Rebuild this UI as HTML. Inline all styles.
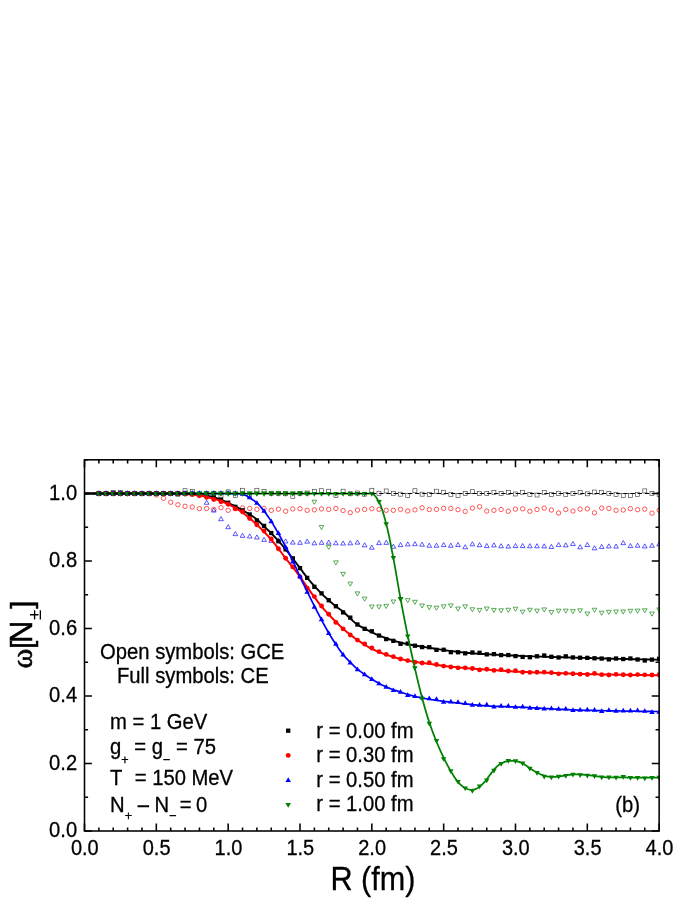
<!DOCTYPE html>
<html><head><meta charset="utf-8"><title>chart</title>
<style>html,body{margin:0;padding:0;background:#fff;}body{width:695px;height:899px;position:relative;overflow:hidden;font-family:"Liberation Sans",sans-serif;}</style>
</head><body>
<svg width="695" height="899" viewBox="0 0 695 899" style="position:absolute;left:0;top:0;display:block;will-change:transform" font-family="'Liberation Sans', sans-serif" fill="#000">
<style>text{stroke:#000;stroke-width:0.28px}</style>
<rect x="0" y="0" width="695" height="899" fill="#fff"/>
<defs><clipPath id="pc"><rect x="84.5" y="459.81" width="575.24" height="371.19"/></clipPath></defs>
<g clip-path="url(#pc)">
<g fill="none" stroke="#333" stroke-width="0.6">
<rect x="96.87" y="491.5" width="4" height="4"/>
<rect x="104.05" y="491.5" width="4" height="4"/>
<rect x="111.23" y="490.49" width="4" height="4"/>
<rect x="118.41" y="490.49" width="4" height="4"/>
<rect x="125.6" y="491.5" width="4" height="4"/>
<rect x="132.78" y="491.5" width="4" height="4"/>
<rect x="139.96" y="491.5" width="4" height="4"/>
<rect x="147.15" y="491.5" width="4" height="4"/>
<rect x="154.33" y="491.5" width="4" height="4"/>
<rect x="161.51" y="491.5" width="4" height="4"/>
<rect x="168.7" y="491.5" width="4" height="4"/>
<rect x="175.88" y="492.17" width="4" height="4"/>
<rect x="183.06" y="488.74" width="4" height="4"/>
<rect x="190.25" y="489.48" width="4" height="4"/>
<rect x="197.43" y="492.17" width="4" height="4"/>
<rect x="204.61" y="491.74" width="4" height="4"/>
<rect x="211.79" y="491.26" width="4" height="4"/>
<rect x="218.98" y="494.03" width="4" height="4"/>
<rect x="226.16" y="489.88" width="4" height="4"/>
<rect x="233.34" y="493.52" width="4" height="4"/>
<rect x="240.53" y="488.26" width="4" height="4"/>
<rect x="247.71" y="494.03" width="4" height="4"/>
<rect x="254.89" y="488.26" width="4" height="4"/>
<rect x="262.07" y="489.48" width="4" height="4"/>
<rect x="269.26" y="491.26" width="4" height="4"/>
<rect x="276.44" y="491.26" width="4" height="4"/>
<rect x="283.62" y="491.74" width="4" height="4"/>
<rect x="290.81" y="494.5" width="4" height="4"/>
<rect x="297.99" y="491.5" width="4" height="4"/>
<rect x="305.17" y="491.03" width="4" height="4"/>
<rect x="312.36" y="489.44" width="4" height="4"/>
<rect x="319.54" y="488.74" width="4" height="4"/>
<rect x="326.72" y="489.21" width="4" height="4"/>
<rect x="333.9" y="493.35" width="4" height="4"/>
<rect x="341.09" y="489.21" width="4" height="4"/>
<rect x="348.27" y="491.74" width="4" height="4"/>
<rect x="355.45" y="491.03" width="4" height="4"/>
<rect x="362.64" y="492.17" width="4" height="4"/>
<rect x="369.82" y="488.26" width="4" height="4"/>
<rect x="377" y="491.26" width="4" height="4"/>
<rect x="384.19" y="488.97" width="4" height="4"/>
<rect x="391.37" y="491.26" width="4" height="4"/>
<rect x="398.55" y="492.17" width="4" height="4"/>
<rect x="405.74" y="493.35" width="4" height="4"/>
<rect x="412.92" y="488.74" width="4" height="4"/>
<rect x="420.1" y="492.17" width="4" height="4"/>
<rect x="427.28" y="492.65" width="4" height="4"/>
<rect x="434.47" y="489.21" width="4" height="4"/>
<rect x="441.65" y="490.25" width="4" height="4"/>
<rect x="448.83" y="492.51" width="4" height="4"/>
<rect x="456.02" y="493.35" width="4" height="4"/>
<rect x="463.2" y="491.63" width="4" height="4"/>
<rect x="470.38" y="489.71" width="4" height="4"/>
<rect x="477.56" y="491.5" width="4" height="4"/>
<rect x="484.75" y="491.5" width="4" height="4"/>
<rect x="491.93" y="490.59" width="4" height="4"/>
<rect x="499.11" y="491.5" width="4" height="4"/>
<rect x="506.3" y="490.49" width="4" height="4"/>
<rect x="513.48" y="491.97" width="4" height="4"/>
<rect x="520.66" y="490.25" width="4" height="4"/>
<rect x="527.85" y="492.31" width="4" height="4"/>
<rect x="535.03" y="493.02" width="4" height="4"/>
<rect x="542.21" y="490.59" width="4" height="4"/>
<rect x="549.39" y="492.51" width="4" height="4"/>
<rect x="556.58" y="491.5" width="4" height="4"/>
<rect x="563.76" y="492.51" width="4" height="4"/>
<rect x="570.94" y="491.5" width="4" height="4"/>
<rect x="578.13" y="490.59" width="4" height="4"/>
<rect x="585.31" y="491.84" width="4" height="4"/>
<rect x="592.49" y="490.05" width="4" height="4"/>
<rect x="599.68" y="490.42" width="4" height="4"/>
<rect x="606.86" y="491.5" width="4" height="4"/>
<rect x="614.04" y="492.51" width="4" height="4"/>
<rect x="621.23" y="493.35" width="4" height="4"/>
<rect x="628.41" y="493.35" width="4" height="4"/>
<rect x="635.59" y="492.51" width="4" height="4"/>
<rect x="642.77" y="488.87" width="4" height="4"/>
<rect x="649.96" y="491.5" width="4" height="4"/>
<rect x="657.14" y="492.65" width="4" height="4"/>
</g>
<g fill="none" stroke="#ff0000" stroke-width="0.65">
<circle cx="98.87" cy="493.5" r="2.2"/>
<circle cx="106.05" cy="493.5" r="2.2"/>
<circle cx="113.23" cy="493.5" r="2.2"/>
<circle cx="120.41" cy="493.5" r="2.2"/>
<circle cx="127.6" cy="493.5" r="2.2"/>
<circle cx="134.78" cy="493.5" r="2.2"/>
<circle cx="141.96" cy="493.5" r="2.2"/>
<circle cx="149.15" cy="493.5" r="2.2"/>
<circle cx="156.33" cy="494.85" r="2.2"/>
<circle cx="163.51" cy="498.32" r="2.2"/>
<circle cx="170.7" cy="502.26" r="2.2"/>
<circle cx="177.88" cy="504.79" r="2.2"/>
<circle cx="185.06" cy="506.31" r="2.2"/>
<circle cx="192.25" cy="506.98" r="2.2"/>
<circle cx="199.43" cy="508.67" r="2.2"/>
<circle cx="206.61" cy="508.46" r="2.2"/>
<circle cx="213.79" cy="509.34" r="2.2"/>
<circle cx="220.98" cy="507.65" r="2.2"/>
<circle cx="228.16" cy="510.35" r="2.2"/>
<circle cx="235.34" cy="508.67" r="2.2"/>
<circle cx="242.53" cy="507.99" r="2.2"/>
<circle cx="249.71" cy="508.46" r="2.2"/>
<circle cx="256.89" cy="509.34" r="2.2"/>
<circle cx="264.07" cy="508.46" r="2.2"/>
<circle cx="271.26" cy="510.35" r="2.2"/>
<circle cx="278.44" cy="509.17" r="2.2"/>
<circle cx="285.62" cy="511.23" r="2.2"/>
<circle cx="292.81" cy="508.93" r="2.2"/>
<circle cx="299.99" cy="508.7" r="2.2"/>
<circle cx="307.17" cy="510.32" r="2.2"/>
<circle cx="314.36" cy="509.84" r="2.2"/>
<circle cx="321.54" cy="508.93" r="2.2"/>
<circle cx="328.72" cy="509.37" r="2.2"/>
<circle cx="335.9" cy="508.46" r="2.2"/>
<circle cx="343.09" cy="510.52" r="2.2"/>
<circle cx="350.27" cy="512.61" r="2.2"/>
<circle cx="357.45" cy="510.08" r="2.2"/>
<circle cx="364.64" cy="509.37" r="2.2"/>
<circle cx="371.82" cy="508.7" r="2.2"/>
<circle cx="379" cy="509.37" r="2.2"/>
<circle cx="386.19" cy="510.32" r="2.2"/>
<circle cx="393.37" cy="510.32" r="2.2"/>
<circle cx="400.55" cy="509.37" r="2.2"/>
<circle cx="407.74" cy="510.99" r="2.2"/>
<circle cx="414.92" cy="509.84" r="2.2"/>
<circle cx="422.1" cy="507.76" r="2.2"/>
<circle cx="429.28" cy="509.51" r="2.2"/>
<circle cx="436.47" cy="509.34" r="2.2"/>
<circle cx="443.65" cy="508.33" r="2.2"/>
<circle cx="450.83" cy="508.46" r="2.2"/>
<circle cx="458.02" cy="509.68" r="2.2"/>
<circle cx="465.2" cy="511.43" r="2.2"/>
<circle cx="472.38" cy="508.13" r="2.2"/>
<circle cx="479.56" cy="506.74" r="2.2"/>
<circle cx="486.75" cy="511.06" r="2.2"/>
<circle cx="493.93" cy="510.35" r="2.2"/>
<circle cx="501.11" cy="509.51" r="2.2"/>
<circle cx="508.3" cy="511.23" r="2.2"/>
<circle cx="515.48" cy="509.17" r="2.2"/>
<circle cx="522.66" cy="508.83" r="2.2"/>
<circle cx="529.85" cy="511.23" r="2.2"/>
<circle cx="537.03" cy="509.51" r="2.2"/>
<circle cx="544.21" cy="508.13" r="2.2"/>
<circle cx="551.39" cy="510.01" r="2.2"/>
<circle cx="558.58" cy="512.98" r="2.2"/>
<circle cx="565.76" cy="509.51" r="2.2"/>
<circle cx="572.94" cy="511.06" r="2.2"/>
<circle cx="580.13" cy="509.17" r="2.2"/>
<circle cx="587.31" cy="508.83" r="2.2"/>
<circle cx="594.49" cy="512.81" r="2.2"/>
<circle cx="601.68" cy="508.13" r="2.2"/>
<circle cx="608.86" cy="508.46" r="2.2"/>
<circle cx="616.04" cy="510.35" r="2.2"/>
<circle cx="623.23" cy="510.01" r="2.2"/>
<circle cx="630.41" cy="508.67" r="2.2"/>
<circle cx="637.59" cy="509.68" r="2.2"/>
<circle cx="644.77" cy="509.17" r="2.2"/>
<circle cx="651.96" cy="513.15" r="2.2"/>
<circle cx="659.14" cy="510.22" r="2.2"/>
</g>
<g fill="none" stroke="#0000ff" stroke-width="0.65">
<path d="M98.87 491.45L101.22 495.55L96.52 495.55Z"/>
<path d="M106.05 491.45L108.4 495.55L103.7 495.55Z"/>
<path d="M113.23 491.45L115.58 495.55L110.88 495.55Z"/>
<path d="M120.41 491.45L122.76 495.55L118.06 495.55Z"/>
<path d="M127.6 491.45L129.95 495.55L125.25 495.55Z"/>
<path d="M134.78 491.45L137.13 495.55L132.43 495.55Z"/>
<path d="M141.96 491.45L144.31 495.55L139.61 495.55Z"/>
<path d="M149.15 491.45L151.5 495.55L146.8 495.55Z"/>
<path d="M156.33 491.45L158.68 495.55L153.98 495.55Z"/>
<path d="M163.51 491.45L165.86 495.55L161.16 495.55Z"/>
<path d="M170.7 491.45L173.05 495.55L168.35 495.55Z"/>
<path d="M177.88 491.45L180.23 495.55L175.53 495.55Z"/>
<path d="M185.06 491.45L187.41 495.55L182.71 495.55Z"/>
<path d="M192.25 491.45L194.59 495.55L189.9 495.55Z"/>
<path d="M199.43 492.12L201.78 496.22L197.08 496.22Z"/>
<path d="M206.61 500.21L208.96 504.31L204.26 504.31Z"/>
<path d="M213.79 507.96L216.14 512.06L211.44 512.06Z"/>
<path d="M220.98 516.56L223.33 520.66L218.63 520.66Z"/>
<path d="M228.16 524.61L230.51 528.71L225.81 528.71Z"/>
<path d="M235.34 531.55L237.69 535.65L232.99 535.65Z"/>
<path d="M242.53 533.24L244.88 537.34L240.18 537.34Z"/>
<path d="M249.71 533.91L252.06 538.01L247.36 538.01Z"/>
<path d="M256.89 534.92L259.24 539.02L254.54 539.02Z"/>
<path d="M264.07 537.28L266.43 541.38L261.72 541.38Z"/>
<path d="M271.26 538.29L273.61 542.39L268.91 542.39Z"/>
<path d="M278.44 537.79L280.79 541.89L276.09 541.89Z"/>
<path d="M285.62 538.87L287.97 542.97L283.27 542.97Z"/>
<path d="M292.81 540.01L295.16 544.11L290.46 544.11Z"/>
<path d="M299.99 540.25L302.34 544.35L297.64 544.35Z"/>
<path d="M307.17 539.1L309.52 543.2L304.82 543.2Z"/>
<path d="M314.36 540.72L316.71 544.82L312.01 544.82Z"/>
<path d="M321.54 540.25L323.89 544.35L319.19 544.35Z"/>
<path d="M328.72 540.01L331.07 544.11L326.37 544.11Z"/>
<path d="M335.9 540.72L338.25 544.82L333.55 544.82Z"/>
<path d="M343.09 540.96L345.44 545.06L340.74 545.06Z"/>
<path d="M350.27 540.72L352.62 544.82L347.92 544.82Z"/>
<path d="M357.45 540.01L359.8 544.11L355.1 544.11Z"/>
<path d="M364.64 542.78L366.99 546.88L362.29 546.88Z"/>
<path d="M371.82 545.1L374.17 549.2L369.47 549.2Z"/>
<path d="M379 540.48L381.35 544.58L376.65 544.58Z"/>
<path d="M386.19 540.25L388.54 544.35L383.84 544.35Z"/>
<path d="M393.37 544.16L395.72 548.26L391.02 548.26Z"/>
<path d="M400.55 542.54L402.9 546.64L398.2 546.64Z"/>
<path d="M407.74 541.87L410.09 545.97L405.38 545.97Z"/>
<path d="M414.92 541.63L417.27 545.73L412.57 545.73Z"/>
<path d="M422.1 542.1L424.45 546.2L419.75 546.2Z"/>
<path d="M429.28 543.15L431.63 547.25L426.93 547.25Z"/>
<path d="M436.47 543.15L438.82 547.25L434.12 547.25Z"/>
<path d="M443.65 542.47L446 546.57L441.3 546.57Z"/>
<path d="M450.83 543.15L453.18 547.25L448.48 547.25Z"/>
<path d="M458.02 542.47L460.37 546.57L455.67 546.57Z"/>
<path d="M465.2 544.7L467.55 548.8L462.85 548.8Z"/>
<path d="M472.38 541.76L474.73 545.86L470.03 545.86Z"/>
<path d="M479.56 542.64L481.92 546.74L477.21 546.74Z"/>
<path d="M486.75 543.48L489.1 547.58L484.4 547.58Z"/>
<path d="M493.93 542.81L496.28 546.91L491.58 546.91Z"/>
<path d="M501.11 543.69L503.46 547.78L498.76 547.78Z"/>
<path d="M508.3 544.02L510.65 548.12L505.95 548.12Z"/>
<path d="M515.48 543.48L517.83 547.58L513.13 547.58Z"/>
<path d="M522.66 543.48L525.01 547.58L520.31 547.58Z"/>
<path d="M529.85 543.69L532.2 547.78L527.5 547.78Z"/>
<path d="M537.03 543.69L539.38 547.78L534.68 547.78Z"/>
<path d="M544.21 543.85L546.56 547.95L541.86 547.95Z"/>
<path d="M551.39 544.36L553.75 548.46L549.04 548.46Z"/>
<path d="M558.58 542.47L560.93 546.57L556.23 546.57Z"/>
<path d="M565.76 542.81L568.11 546.91L563.41 546.91Z"/>
<path d="M572.94 541.43L575.29 545.53L570.59 545.53Z"/>
<path d="M580.13 544.7L582.48 548.8L577.78 548.8Z"/>
<path d="M587.31 542.47L589.66 546.57L584.96 546.57Z"/>
<path d="M594.49 545.74L596.84 549.84L592.14 549.84Z"/>
<path d="M601.68 544.36L604.03 548.46L599.33 548.46Z"/>
<path d="M608.86 543.85L611.21 547.95L606.51 547.95Z"/>
<path d="M616.04 544.02L618.39 548.12L613.69 548.12Z"/>
<path d="M623.23 540.55L625.58 544.65L620.88 544.65Z"/>
<path d="M630.41 543.48L632.76 547.58L628.06 547.58Z"/>
<path d="M637.59 543.15L639.94 547.25L635.24 547.25Z"/>
<path d="M644.77 543.85L647.12 547.95L642.42 547.95Z"/>
<path d="M651.96 543.15L654.31 547.25L649.61 547.25Z"/>
<path d="M659.14 541.76L661.49 545.86L656.79 545.86Z"/>
</g>
<g fill="none" stroke="#008000" stroke-width="0.65">
<path d="M98.87 495.55L101.22 491.45L96.52 491.45Z"/>
<path d="M106.05 495.55L108.4 491.45L103.7 491.45Z"/>
<path d="M113.23 495.55L115.58 491.45L110.88 491.45Z"/>
<path d="M120.41 495.55L122.76 491.45L118.06 491.45Z"/>
<path d="M127.6 495.55L129.95 491.45L125.25 491.45Z"/>
<path d="M134.78 495.55L137.13 491.45L132.43 491.45Z"/>
<path d="M141.96 495.55L144.31 491.45L139.61 491.45Z"/>
<path d="M149.15 495.55L151.5 491.45L146.8 491.45Z"/>
<path d="M156.33 495.55L158.68 491.45L153.98 491.45Z"/>
<path d="M163.51 495.55L165.86 491.45L161.16 491.45Z"/>
<path d="M170.7 495.55L173.05 491.45L168.35 491.45Z"/>
<path d="M177.88 495.55L180.23 491.45L175.53 491.45Z"/>
<path d="M185.06 495.55L187.41 491.45L182.71 491.45Z"/>
<path d="M192.25 495.55L194.59 491.45L189.9 491.45Z"/>
<path d="M199.43 495.55L201.78 491.45L197.08 491.45Z"/>
<path d="M206.61 495.55L208.96 491.45L204.26 491.45Z"/>
<path d="M213.79 495.55L216.14 491.45L211.44 491.45Z"/>
<path d="M220.98 495.55L223.33 491.45L218.63 491.45Z"/>
<path d="M228.16 495.55L230.51 491.45L225.81 491.45Z"/>
<path d="M235.34 495.55L237.69 491.45L232.99 491.45Z"/>
<path d="M242.53 495.55L244.88 491.45L240.18 491.45Z"/>
<path d="M249.71 495.55L252.06 491.45L247.36 491.45Z"/>
<path d="M256.89 495.55L259.24 491.45L254.54 491.45Z"/>
<path d="M264.07 495.55L266.43 491.45L261.72 491.45Z"/>
<path d="M271.26 495.55L273.61 491.45L268.91 491.45Z"/>
<path d="M278.44 495.55L280.79 491.45L276.09 491.45Z"/>
<path d="M285.62 495.55L287.97 491.45L283.27 491.45Z"/>
<path d="M292.81 495.55L295.16 491.45L290.46 491.45Z"/>
<path d="M299.99 495.55L302.34 491.45L297.64 491.45Z"/>
<path d="M307.17 495.89L309.52 491.79L304.82 491.79Z"/>
<path d="M314.36 504.31L316.71 500.21L312.01 500.21Z"/>
<path d="M321.54 529.59L323.89 525.49L319.19 525.49Z"/>
<path d="M328.72 549.47L331.07 545.37L326.37 545.37Z"/>
<path d="M335.9 564.97L338.25 560.87L333.55 560.87Z"/>
<path d="M343.09 576.43L345.44 572.33L340.74 572.33Z"/>
<path d="M350.27 586.2L352.62 582.1L347.92 582.1Z"/>
<path d="M357.45 595.98L359.8 591.88L355.1 591.88Z"/>
<path d="M364.64 601.2L366.99 597.1L362.29 597.1Z"/>
<path d="M371.82 609.12L374.17 605.02L369.47 605.02Z"/>
<path d="M379 609.12L381.35 605.02L376.65 605.02Z"/>
<path d="M386.19 608.44L388.54 604.35L383.84 604.35Z"/>
<path d="M393.37 604.06L395.72 599.96L391.02 599.96Z"/>
<path d="M400.55 601.7L402.9 597.61L398.2 597.61Z"/>
<path d="M407.74 602.72L410.09 598.62L405.38 598.62Z"/>
<path d="M414.92 604.4L417.27 600.3L412.57 600.3Z"/>
<path d="M422.1 608.11L424.45 604.01L419.75 604.01Z"/>
<path d="M429.28 609.76L431.63 605.66L426.93 605.66Z"/>
<path d="M436.47 610.3L438.82 606.2L434.12 606.2Z"/>
<path d="M443.65 608.92L446 604.82L441.3 604.82Z"/>
<path d="M450.83 608.04L453.18 603.94L448.48 603.94Z"/>
<path d="M458.02 611.14L460.37 607.04L455.67 607.04Z"/>
<path d="M465.2 608.92L467.55 604.82L462.85 604.82Z"/>
<path d="M472.38 611.85L474.73 607.75L470.03 607.75Z"/>
<path d="M479.56 612.52L481.92 608.42L477.21 608.42Z"/>
<path d="M486.75 611.14L489.1 607.04L484.4 607.04Z"/>
<path d="M493.93 612.52L496.28 608.42L491.58 608.42Z"/>
<path d="M501.11 612.89L503.46 608.79L498.76 608.79Z"/>
<path d="M508.3 612.35L510.65 608.25L505.95 608.25Z"/>
<path d="M515.48 611.31L517.83 607.21L513.13 607.21Z"/>
<path d="M522.66 614.28L525.01 610.18L520.31 610.18Z"/>
<path d="M529.85 612.35L532.2 608.25L527.5 608.25Z"/>
<path d="M537.03 613.23L539.38 609.13L534.68 609.13Z"/>
<path d="M544.21 612.02L546.56 607.92L541.86 607.92Z"/>
<path d="M551.39 614.61L553.75 610.51L549.04 610.51Z"/>
<path d="M558.58 613.23L560.93 609.13L556.23 609.13Z"/>
<path d="M565.76 613.23L568.11 609.13L563.41 609.13Z"/>
<path d="M572.94 613.74L575.29 609.64L570.59 609.64Z"/>
<path d="M580.13 612.89L582.48 608.79L577.78 608.79Z"/>
<path d="M587.31 616.16L589.66 612.06L584.96 612.06Z"/>
<path d="M594.49 612.35L596.84 608.25L592.14 608.25Z"/>
<path d="M601.68 615.29L604.03 611.19L599.33 611.19Z"/>
<path d="M608.86 614.44L611.21 610.34L606.51 610.34Z"/>
<path d="M616.04 614.07L618.39 609.97L613.69 609.97Z"/>
<path d="M623.23 614.07L625.58 609.97L620.88 609.97Z"/>
<path d="M630.41 613.4L632.76 609.3L628.06 609.3Z"/>
<path d="M637.59 613.23L639.94 609.13L635.24 609.13Z"/>
<path d="M644.77 612.89L647.12 608.79L642.42 608.79Z"/>
<path d="M651.96 616.16L654.31 612.06L649.61 612.06Z"/>
<path d="M659.14 612.02L661.49 607.92L656.79 607.92Z"/>
</g>
<path d="M84.5 493.5L85.94 493.5L87.37 493.5L88.81 493.5L90.25 493.5L91.68 493.5L93.12 493.5L94.56 493.5L95.99 493.5L97.43 493.5L98.87 493.5L100.3 493.5L101.74 493.5L103.18 493.5L104.61 493.5L106.05 493.5L107.49 493.5L108.92 493.5L110.36 493.5L111.8 493.5L113.23 493.5L114.67 493.5L116.11 493.5L117.54 493.5L118.98 493.5L120.41 493.5L121.85 493.5L123.29 493.5L124.72 493.5L126.16 493.5L127.6 493.5L129.03 493.5L130.47 493.5L131.91 493.5L133.34 493.5L134.78 493.5L136.22 493.5L137.65 493.5L139.09 493.5L140.53 493.5L141.96 493.5L143.4 493.5L144.84 493.5L146.27 493.5L147.71 493.5L149.15 493.5L150.58 493.5L152.02 493.5L153.46 493.5L154.89 493.5L156.33 493.5L157.77 493.5L159.2 493.5L160.64 493.5L162.08 493.5L163.51 493.5L164.95 493.5L166.39 493.5L167.82 493.5L169.26 493.5L170.7 493.5L172.13 493.5L173.57 493.51L175.01 493.52L176.44 493.53L177.88 493.55L179.32 493.57L180.75 493.59L182.19 493.61L183.63 493.64L185.06 493.67L186.5 493.71L187.94 493.76L189.37 493.83L190.81 493.92L192.25 494.02L193.68 494.13L195.12 494.24L196.55 494.37L197.99 494.51L199.43 494.65L200.86 494.8L202.3 494.98L203.74 495.18L205.17 495.41L206.61 495.66L208.05 495.93L209.48 496.22L210.92 496.53L212.36 496.86L213.79 497.21L215.23 497.6L216.67 498.05L218.1 498.57L219.54 499.12L220.98 499.72L222.41 500.35L223.85 500.99L225.29 501.64L226.72 502.29L228.16 502.94L229.6 503.58L231.03 504.26L232.47 504.96L233.91 505.68L235.34 506.41L236.78 507.16L238.22 507.94L239.65 508.74L241.09 509.54L242.53 510.35L243.96 511.15L245.4 511.94L246.84 512.75L248.27 513.58L249.71 514.46L251.15 515.38L252.58 516.33L254.02 517.33L255.46 518.39L256.89 519.52L258.33 520.76L259.77 522.13L261.2 523.56L262.64 525.01L264.07 526.42L265.51 527.8L266.95 529.16L268.38 530.52L269.82 531.91L271.26 533.33L272.69 534.79L274.13 536.28L275.57 537.79L277 539.34L278.44 540.92L279.88 542.53L281.31 544.17L282.75 545.85L284.19 547.56L285.62 549.31L287.06 551.11L288.5 552.97L289.93 554.86L291.37 556.76L292.81 558.64L294.24 560.5L295.68 562.36L297.12 564.21L298.55 566.08L299.99 567.98L301.43 569.93L302.86 571.93L304.3 573.93L305.74 575.89L307.17 577.75L308.61 579.51L310.05 581.2L311.48 582.84L312.92 584.45L314.36 586.04L315.79 587.62L317.23 589.18L318.67 590.71L320.1 592.21L321.54 593.66L322.98 595.06L324.41 596.42L325.85 597.75L327.29 599.05L328.72 600.33L330.16 601.59L331.6 602.84L333.03 604.06L334.47 605.25L335.9 606.39L337.34 607.46L338.78 608.46L340.21 609.44L341.65 610.46L343.09 611.58L344.52 612.86L345.96 614.26L347.4 615.72L348.83 617.17L350.27 618.53L351.71 619.83L353.14 621.13L354.58 622.38L356.02 623.55L357.45 624.59L358.89 625.51L360.33 626.34L361.76 627.12L363.2 627.88L364.64 628.64L366.07 629.41L367.51 630.18L368.95 630.93L370.38 631.66L371.82 632.34L373.26 633.01L374.69 633.66L376.13 634.29L377.57 634.91L379 635.52L380.44 636.11L381.88 636.68L383.31 637.23L384.75 637.76L386.19 638.28L387.62 638.77L389.06 639.25L390.5 639.72L391.93 640.18L393.37 640.62L394.81 641.05L396.24 641.46L397.68 641.86L399.12 642.23L400.55 642.59L401.99 642.93L403.43 643.25L404.86 643.56L406.3 643.86L407.74 644.15L409.17 644.43L410.61 644.7L412.04 644.97L413.48 645.23L414.92 645.49L416.35 645.74L417.79 645.98L419.23 646.21L420.66 646.44L422.1 646.67L423.54 646.89L424.97 647.11L426.41 647.33L427.85 647.55L429.28 647.78L430.72 648.01L432.16 648.25L433.59 648.48L435.03 648.72L436.47 648.96L437.9 649.19L439.34 649.42L440.78 649.65L442.21 649.86L443.65 650.07L445.09 650.27L446.52 650.47L447.96 650.66L449.4 650.85L450.83 651.03L452.27 651.21L453.71 651.39L455.14 651.56L456.58 651.73L458.02 651.89L459.45 652.05L460.89 652.21L462.33 652.36L463.76 652.51L465.2 652.66L466.64 652.8L468.07 652.94L469.51 653.07L470.95 653.19L472.38 653.31L473.82 653.41L475.26 653.51L476.69 653.6L478.13 653.69L479.56 653.77L481 653.86L482.44 653.94L483.87 654.02L485.31 654.1L486.75 654.18L488.18 654.27L489.62 654.35L491.06 654.43L492.49 654.51L493.93 654.6L495.37 654.68L496.8 654.76L498.24 654.84L499.68 654.91L501.11 654.99L502.55 655.07L503.99 655.14L505.42 655.22L506.86 655.29L508.3 655.36L509.73 655.44L511.17 655.5L512.61 655.57L514.04 655.64L515.48 655.7L516.92 655.76L518.35 655.82L519.79 655.87L521.23 655.93L522.66 655.98L524.1 656.04L525.54 656.09L526.97 656.14L528.41 656.19L529.85 656.24L531.28 656.29L532.72 656.34L534.16 656.39L535.59 656.44L537.03 656.49L538.47 656.53L539.9 656.58L541.34 656.63L542.78 656.67L544.21 656.72L545.65 656.76L547.09 656.81L548.52 656.85L549.96 656.9L551.39 656.94L552.83 656.99L554.27 657.04L555.7 657.08L557.14 657.12L558.58 657.17L560.01 657.21L561.45 657.25L562.89 657.3L564.32 657.34L565.76 657.38L567.2 657.42L568.63 657.46L570.07 657.5L571.51 657.54L572.94 657.59L574.38 657.63L575.82 657.67L577.25 657.71L578.69 657.75L580.13 657.79L581.56 657.83L583 657.87L584.44 657.91L585.87 657.95L587.31 657.99L588.75 658.03L590.18 658.07L591.62 658.11L593.06 658.15L594.49 658.19L595.93 658.23L597.37 658.28L598.8 658.32L600.24 658.36L601.68 658.4L603.11 658.44L604.55 658.48L605.99 658.52L607.42 658.56L608.86 658.6L610.3 658.64L611.73 658.68L613.17 658.71L614.61 658.75L616.04 658.79L617.48 658.83L618.92 658.86L620.35 658.9L621.79 658.93L623.23 658.97L624.66 659L626.1 659.03L627.53 659.07L628.97 659.1L630.41 659.13L631.84 659.16L633.28 659.2L634.72 659.23L636.15 659.26L637.59 659.29L639.03 659.32L640.46 659.35L641.9 659.38L643.34 659.41L644.77 659.44L646.21 659.47L647.65 659.5L649.08 659.52L650.52 659.55L651.96 659.58L653.39 659.61L654.83 659.63L656.27 659.66L657.7 659.68L659.14 659.71" fill="none" stroke="#000" stroke-width="1.9" stroke-linejoin="round"/>
<g fill="#000" stroke="none">
<rect x="96.72" y="491.35" width="4.3" height="4.3"/>
<rect x="103.9" y="491.35" width="4.3" height="4.3"/>
<rect x="111.08" y="491.35" width="4.3" height="4.3"/>
<rect x="118.26" y="491.35" width="4.3" height="4.3"/>
<rect x="125.45" y="491.35" width="4.3" height="4.3"/>
<rect x="132.63" y="491.35" width="4.3" height="4.3"/>
<rect x="139.81" y="491.35" width="4.3" height="4.3"/>
<rect x="147" y="491.35" width="4.3" height="4.3"/>
<rect x="154.18" y="491.35" width="4.3" height="4.3"/>
<rect x="161.36" y="491.35" width="4.3" height="4.3"/>
<rect x="168.55" y="491.35" width="4.3" height="4.3"/>
<rect x="175.73" y="491.4" width="4.3" height="4.3"/>
<rect x="182.91" y="491.52" width="4.3" height="4.3"/>
<rect x="190.09" y="491.87" width="4.3" height="4.3"/>
<rect x="197.28" y="492.5" width="4.3" height="4.3"/>
<rect x="204.46" y="492.6" width="4.3" height="4.3"/>
<rect x="211.64" y="495.31" width="4.3" height="4.3"/>
<rect x="218.83" y="497.55" width="4.3" height="4.3"/>
<rect x="226.01" y="500.57" width="4.3" height="4.3"/>
<rect x="233.19" y="504.68" width="4.3" height="4.3"/>
<rect x="240.38" y="508.2" width="4.3" height="4.3"/>
<rect x="247.56" y="512.31" width="4.3" height="4.3"/>
<rect x="254.74" y="518.31" width="4.3" height="4.3"/>
<rect x="261.93" y="523.73" width="4.3" height="4.3"/>
<rect x="269.11" y="530.86" width="4.3" height="4.3"/>
<rect x="276.29" y="539.1" width="4.3" height="4.3"/>
<rect x="283.47" y="547.25" width="4.3" height="4.3"/>
<rect x="290.66" y="556.22" width="4.3" height="4.3"/>
<rect x="297.84" y="565.97" width="4.3" height="4.3"/>
<rect x="305.02" y="575.73" width="4.3" height="4.3"/>
<rect x="312.21" y="584.67" width="4.3" height="4.3"/>
<rect x="319.39" y="591.21" width="4.3" height="4.3"/>
<rect x="326.57" y="598.11" width="4.3" height="4.3"/>
<rect x="333.75" y="604.1" width="4.3" height="4.3"/>
<rect x="340.94" y="610.26" width="4.3" height="4.3"/>
<rect x="348.12" y="615.49" width="4.3" height="4.3"/>
<rect x="355.3" y="622.36" width="4.3" height="4.3"/>
<rect x="362.49" y="626.7" width="4.3" height="4.3"/>
<rect x="369.67" y="629.1" width="4.3" height="4.3"/>
<rect x="376.85" y="633.39" width="4.3" height="4.3"/>
<rect x="384.04" y="636.91" width="4.3" height="4.3"/>
<rect x="391.22" y="638.69" width="4.3" height="4.3"/>
<rect x="398.4" y="641.67" width="4.3" height="4.3"/>
<rect x="405.59" y="641.44" width="4.3" height="4.3"/>
<rect x="412.77" y="643.56" width="4.3" height="4.3"/>
<rect x="419.95" y="644.92" width="4.3" height="4.3"/>
<rect x="427.13" y="645.05" width="4.3" height="4.3"/>
<rect x="434.32" y="647.7" width="4.3" height="4.3"/>
<rect x="441.5" y="647.63" width="4.3" height="4.3"/>
<rect x="448.68" y="650" width="4.3" height="4.3"/>
<rect x="455.87" y="650.1" width="4.3" height="4.3"/>
<rect x="463.05" y="651.16" width="4.3" height="4.3"/>
<rect x="470.23" y="650.37" width="4.3" height="4.3"/>
<rect x="477.42" y="650.67" width="4.3" height="4.3"/>
<rect x="484.6" y="652.21" width="4.3" height="4.3"/>
<rect x="491.78" y="651.99" width="4.3" height="4.3"/>
<rect x="498.96" y="652.94" width="4.3" height="4.3"/>
<rect x="506.15" y="652.91" width="4.3" height="4.3"/>
<rect x="513.33" y="653.95" width="4.3" height="4.3"/>
<rect x="520.51" y="654.75" width="4.3" height="4.3"/>
<rect x="527.7" y="655.07" width="4.3" height="4.3"/>
<rect x="534.88" y="654.13" width="4.3" height="4.3"/>
<rect x="542.06" y="653.36" width="4.3" height="4.3"/>
<rect x="549.25" y="654.65" width="4.3" height="4.3"/>
<rect x="556.43" y="655.3" width="4.3" height="4.3"/>
<rect x="563.61" y="654.2" width="4.3" height="4.3"/>
<rect x="570.79" y="655.31" width="4.3" height="4.3"/>
<rect x="577.98" y="655.58" width="4.3" height="4.3"/>
<rect x="585.16" y="655.7" width="4.3" height="4.3"/>
<rect x="592.34" y="656.12" width="4.3" height="4.3"/>
<rect x="599.53" y="656.42" width="4.3" height="4.3"/>
<rect x="606.71" y="657.22" width="4.3" height="4.3"/>
<rect x="613.89" y="656.37" width="4.3" height="4.3"/>
<rect x="621.08" y="656.87" width="4.3" height="4.3"/>
<rect x="628.26" y="656.34" width="4.3" height="4.3"/>
<rect x="635.44" y="657.34" width="4.3" height="4.3"/>
<rect x="642.62" y="658.32" width="4.3" height="4.3"/>
<rect x="649.81" y="657.48" width="4.3" height="4.3"/>
<rect x="656.99" y="656.64" width="4.3" height="4.3"/>
</g>
<path d="M84.5 493.5L85.94 493.5L87.37 493.5L88.81 493.5L90.25 493.5L91.68 493.5L93.12 493.5L94.56 493.5L95.99 493.5L97.43 493.5L98.87 493.5L100.3 493.5L101.74 493.5L103.18 493.5L104.61 493.5L106.05 493.5L107.49 493.5L108.92 493.5L110.36 493.5L111.8 493.5L113.23 493.5L114.67 493.5L116.11 493.5L117.54 493.5L118.98 493.5L120.41 493.5L121.85 493.5L123.29 493.5L124.72 493.5L126.16 493.5L127.6 493.5L129.03 493.5L130.47 493.5L131.91 493.5L133.34 493.5L134.78 493.5L136.22 493.5L137.65 493.5L139.09 493.5L140.53 493.5L141.96 493.5L143.4 493.5L144.84 493.5L146.27 493.5L147.71 493.5L149.15 493.5L150.58 493.5L152.02 493.5L153.46 493.5L154.89 493.5L156.33 493.5L157.77 493.5L159.2 493.5L160.64 493.5L162.08 493.5L163.51 493.5L164.95 493.5L166.39 493.51L167.82 493.52L169.26 493.54L170.7 493.57L172.13 493.59L173.57 493.63L175.01 493.66L176.44 493.7L177.88 493.75L179.32 493.79L180.75 493.84L182.19 493.89L183.63 493.95L185.06 494.01L186.5 494.08L187.94 494.17L189.37 494.29L190.81 494.43L192.25 494.59L193.68 494.76L195.12 494.95L196.55 495.14L197.99 495.35L199.43 495.56L200.86 495.78L202.3 496.03L203.74 496.31L205.17 496.61L206.61 496.93L208.05 497.28L209.48 497.63L210.92 498.01L212.36 498.39L213.79 498.79L215.23 499.21L216.67 499.65L218.1 500.12L219.54 500.61L220.98 501.13L222.41 501.68L223.85 502.24L225.29 502.83L226.72 503.45L228.16 504.08L229.6 504.77L231.03 505.52L232.47 506.31L233.91 507.15L235.34 507.99L236.78 508.85L238.22 509.73L239.65 510.65L241.09 511.61L242.53 512.61L243.96 513.67L245.4 514.79L246.84 515.96L248.27 517.16L249.71 518.37L251.15 519.61L252.58 520.87L254.02 522.17L255.46 523.48L256.89 524.81L258.33 526.14L259.77 527.48L261.2 528.85L262.64 530.26L264.07 531.72L265.51 533.24L266.95 534.81L268.38 536.43L269.82 538.09L271.26 539.77L272.69 541.48L274.13 543.21L275.57 544.99L277 546.79L278.44 548.63L279.88 550.54L281.31 552.5L282.75 554.49L284.19 556.46L285.62 558.37L287.06 560.2L288.5 561.98L289.93 563.73L291.37 565.5L292.81 567.3L294.24 569.14L295.68 570.99L297.12 572.87L298.55 574.78L299.99 576.74L301.43 578.77L302.86 580.87L304.3 583.01L305.74 585.12L307.17 587.19L308.61 589.19L310.05 591.15L311.48 593.1L312.92 595.03L314.36 596.96L315.79 598.91L317.23 600.89L318.67 602.84L320.1 604.73L321.54 606.53L322.98 608.22L324.41 609.84L325.85 611.41L327.29 612.95L328.72 614.48L330.16 616.01L331.6 617.51L333.03 619L334.47 620.46L335.9 621.9L337.34 623.32L338.78 624.73L340.21 626.12L341.65 627.47L343.09 628.77L344.52 630.03L345.96 631.24L347.4 632.42L348.83 633.58L350.27 634.7L351.71 635.81L353.14 636.89L354.58 637.94L356.02 638.97L357.45 639.96L358.89 640.93L360.33 641.91L361.76 642.87L363.2 643.82L364.64 644.74L366.07 645.64L367.51 646.51L368.95 647.34L370.38 648.12L371.82 648.86L373.26 649.55L374.69 650.21L376.13 650.84L377.57 651.45L379 652.04L380.44 652.6L381.88 653.15L383.31 653.67L384.75 654.19L386.19 654.69L387.62 655.18L389.06 655.65L390.5 656.12L391.93 656.57L393.37 657.01L394.81 657.44L396.24 657.85L397.68 658.24L399.12 658.61L400.55 658.97L401.99 659.31L403.43 659.63L404.86 659.95L406.3 660.26L407.74 660.55L409.17 660.83L410.61 661.11L412.04 661.37L413.48 661.62L414.92 661.87L416.35 662.1L417.79 662.32L419.23 662.52L420.66 662.73L422.1 662.92L423.54 663.11L424.97 663.3L426.41 663.49L427.85 663.69L429.28 663.89L430.72 664.09L432.16 664.3L433.59 664.51L435.03 664.73L436.47 664.94L437.9 665.15L439.34 665.35L440.78 665.54L442.21 665.73L443.65 665.91L445.09 666.08L446.52 666.24L447.96 666.39L449.4 666.55L450.83 666.69L452.27 666.84L453.71 666.98L455.14 667.12L456.58 667.25L458.02 667.39L459.45 667.53L460.89 667.67L462.33 667.8L463.76 667.94L465.2 668.07L466.64 668.2L468.07 668.33L469.51 668.45L470.95 668.56L472.38 668.67L473.82 668.78L475.26 668.87L476.69 668.97L478.13 669.05L479.56 669.14L481 669.23L482.44 669.31L483.87 669.4L485.31 669.49L486.75 669.58L488.18 669.68L489.62 669.78L491.06 669.88L492.49 669.98L493.93 670.08L495.37 670.18L496.8 670.29L498.24 670.39L499.68 670.49L501.11 670.59L502.55 670.7L503.99 670.8L505.42 670.91L506.86 671.02L508.3 671.13L509.73 671.24L511.17 671.34L512.61 671.44L514.04 671.53L515.48 671.6L516.92 671.68L518.35 671.75L519.79 671.81L521.23 671.88L522.66 671.94L524.1 672L525.54 672.06L526.97 672.11L528.41 672.17L529.85 672.22L531.28 672.28L532.72 672.33L534.16 672.38L535.59 672.42L537.03 672.47L538.47 672.52L539.9 672.57L541.34 672.62L542.78 672.66L544.21 672.71L545.65 672.76L547.09 672.81L548.52 672.85L549.96 672.9L551.39 672.95L552.83 673L554.27 673.05L555.7 673.11L557.14 673.16L558.58 673.21L560.01 673.26L561.45 673.31L562.89 673.36L564.32 673.42L565.76 673.47L567.2 673.52L568.63 673.57L570.07 673.62L571.51 673.67L572.94 673.71L574.38 673.76L575.82 673.81L577.25 673.85L578.69 673.9L580.13 673.94L581.56 673.98L583 674.02L584.44 674.06L585.87 674.1L587.31 674.13L588.75 674.17L590.18 674.2L591.62 674.23L593.06 674.26L594.49 674.29L595.93 674.33L597.37 674.36L598.8 674.38L600.24 674.41L601.68 674.44L603.11 674.47L604.55 674.5L605.99 674.52L607.42 674.55L608.86 674.57L610.3 674.6L611.73 674.62L613.17 674.65L614.61 674.67L616.04 674.7L617.48 674.72L618.92 674.74L620.35 674.76L621.79 674.78L623.23 674.81L624.66 674.83L626.1 674.85L627.53 674.87L628.97 674.89L630.41 674.91L631.84 674.93L633.28 674.95L634.72 674.97L636.15 674.99L637.59 675.01L639.03 675.02L640.46 675.04L641.9 675.06L643.34 675.08L644.77 675.09L646.21 675.11L647.65 675.13L649.08 675.14L650.52 675.16L651.96 675.17L653.39 675.19L654.83 675.2L656.27 675.22L657.7 675.23L659.14 675.24" fill="none" stroke="#ff0000" stroke-width="2.0" stroke-linejoin="round"/>
<g fill="#ff0000" stroke="none">
<circle cx="98.87" cy="493.5" r="2.45"/>
<circle cx="106.05" cy="493.5" r="2.45"/>
<circle cx="113.23" cy="493.5" r="2.45"/>
<circle cx="120.41" cy="493.5" r="2.45"/>
<circle cx="127.6" cy="493.5" r="2.45"/>
<circle cx="134.78" cy="493.5" r="2.45"/>
<circle cx="141.96" cy="493.5" r="2.45"/>
<circle cx="149.15" cy="493.5" r="2.45"/>
<circle cx="156.33" cy="493.5" r="2.45"/>
<circle cx="163.51" cy="493.5" r="2.45"/>
<circle cx="170.7" cy="493.57" r="2.45"/>
<circle cx="177.88" cy="493.75" r="2.45"/>
<circle cx="185.06" cy="494.01" r="2.45"/>
<circle cx="192.25" cy="494.59" r="2.45"/>
<circle cx="199.43" cy="495.76" r="2.45"/>
<circle cx="206.61" cy="497.41" r="2.45"/>
<circle cx="213.79" cy="499.43" r="2.45"/>
<circle cx="220.98" cy="501.7" r="2.45"/>
<circle cx="228.16" cy="504.24" r="2.45"/>
<circle cx="235.34" cy="508.63" r="2.45"/>
<circle cx="242.53" cy="511.8" r="2.45"/>
<circle cx="249.71" cy="518.52" r="2.45"/>
<circle cx="256.89" cy="524.75" r="2.45"/>
<circle cx="264.07" cy="530.94" r="2.45"/>
<circle cx="271.26" cy="538.96" r="2.45"/>
<circle cx="278.44" cy="548.75" r="2.45"/>
<circle cx="285.62" cy="558.19" r="2.45"/>
<circle cx="292.81" cy="566.91" r="2.45"/>
<circle cx="299.99" cy="576.84" r="2.45"/>
<circle cx="307.17" cy="588.14" r="2.45"/>
<circle cx="314.36" cy="596.61" r="2.45"/>
<circle cx="321.54" cy="606.05" r="2.45"/>
<circle cx="328.72" cy="614.26" r="2.45"/>
<circle cx="335.9" cy="622.39" r="2.45"/>
<circle cx="343.09" cy="628.88" r="2.45"/>
<circle cx="350.27" cy="635.02" r="2.45"/>
<circle cx="357.45" cy="640.12" r="2.45"/>
<circle cx="364.64" cy="644.04" r="2.45"/>
<circle cx="371.82" cy="648.03" r="2.45"/>
<circle cx="379" cy="651.67" r="2.45"/>
<circle cx="386.19" cy="654.39" r="2.45"/>
<circle cx="393.37" cy="656.65" r="2.45"/>
<circle cx="400.55" cy="658.97" r="2.45"/>
<circle cx="407.74" cy="660.59" r="2.45"/>
<circle cx="414.92" cy="662.23" r="2.45"/>
<circle cx="422.1" cy="662.95" r="2.45"/>
<circle cx="429.28" cy="662.67" r="2.45"/>
<circle cx="436.47" cy="664.47" r="2.45"/>
<circle cx="443.65" cy="666.09" r="2.45"/>
<circle cx="450.83" cy="666.95" r="2.45"/>
<circle cx="458.02" cy="667.86" r="2.45"/>
<circle cx="465.2" cy="667.87" r="2.45"/>
<circle cx="472.38" cy="668.46" r="2.45"/>
<circle cx="479.56" cy="669.92" r="2.45"/>
<circle cx="486.75" cy="669.32" r="2.45"/>
<circle cx="493.93" cy="670.39" r="2.45"/>
<circle cx="501.11" cy="669.82" r="2.45"/>
<circle cx="508.3" cy="671.05" r="2.45"/>
<circle cx="515.48" cy="670.68" r="2.45"/>
<circle cx="522.66" cy="672.19" r="2.45"/>
<circle cx="529.85" cy="672.38" r="2.45"/>
<circle cx="537.03" cy="672.31" r="2.45"/>
<circle cx="544.21" cy="672.14" r="2.45"/>
<circle cx="551.39" cy="672.65" r="2.45"/>
<circle cx="558.58" cy="673.87" r="2.45"/>
<circle cx="565.76" cy="673.37" r="2.45"/>
<circle cx="572.94" cy="673.7" r="2.45"/>
<circle cx="580.13" cy="674.17" r="2.45"/>
<circle cx="587.31" cy="674.48" r="2.45"/>
<circle cx="594.49" cy="673.35" r="2.45"/>
<circle cx="601.68" cy="674.65" r="2.45"/>
<circle cx="608.86" cy="675.03" r="2.45"/>
<circle cx="616.04" cy="674.35" r="2.45"/>
<circle cx="623.23" cy="674.74" r="2.45"/>
<circle cx="630.41" cy="674.95" r="2.45"/>
<circle cx="637.59" cy="674.58" r="2.45"/>
<circle cx="644.77" cy="674.83" r="2.45"/>
<circle cx="651.96" cy="674.98" r="2.45"/>
<circle cx="659.14" cy="674.72" r="2.45"/>
</g>
<path d="M84.5 493.5L85.94 493.5L87.37 493.5L88.81 493.5L90.25 493.5L91.68 493.5L93.12 493.5L94.56 493.5L95.99 493.5L97.43 493.5L98.87 493.5L100.3 493.5L101.74 493.5L103.18 493.5L104.61 493.5L106.05 493.5L107.49 493.5L108.92 493.5L110.36 493.5L111.8 493.5L113.23 493.5L114.67 493.5L116.11 493.5L117.54 493.5L118.98 493.5L120.41 493.5L121.85 493.5L123.29 493.5L124.72 493.5L126.16 493.5L127.6 493.5L129.03 493.5L130.47 493.5L131.91 493.5L133.34 493.5L134.78 493.5L136.22 493.5L137.65 493.5L139.09 493.5L140.53 493.5L141.96 493.5L143.4 493.5L144.84 493.5L146.27 493.5L147.71 493.5L149.15 493.5L150.58 493.5L152.02 493.5L153.46 493.5L154.89 493.5L156.33 493.5L157.77 493.5L159.2 493.5L160.64 493.5L162.08 493.5L163.51 493.5L164.95 493.5L166.39 493.5L167.82 493.5L169.26 493.5L170.7 493.5L172.13 493.5L173.57 493.5L175.01 493.5L176.44 493.5L177.88 493.5L179.32 493.5L180.75 493.5L182.19 493.5L183.63 493.5L185.06 493.5L186.5 493.5L187.94 493.5L189.37 493.5L190.81 493.5L192.25 493.5L193.68 493.5L195.12 493.5L196.55 493.5L197.99 493.5L199.43 493.5L200.86 493.5L202.3 493.5L203.74 493.5L205.17 493.5L206.61 493.5L208.05 493.5L209.48 493.5L210.92 493.5L212.36 493.5L213.79 493.5L215.23 493.5L216.67 493.5L218.1 493.5L219.54 493.5L220.98 493.5L222.41 493.5L223.85 493.5L225.29 493.5L226.72 493.5L228.16 493.5L229.6 493.5L231.03 493.51L232.47 493.53L233.91 493.54L235.34 493.57L236.78 493.61L238.22 493.7L239.65 493.82L241.09 493.98L242.53 494.17L243.96 494.56L245.4 495.22L246.84 496.06L248.27 496.98L249.71 497.88L251.15 498.76L252.58 499.68L254.02 500.67L255.46 501.75L256.89 502.94L258.33 504.28L259.77 505.81L261.2 507.47L262.64 509.22L264.07 511.02L265.51 512.9L266.95 514.9L268.38 516.99L269.82 519.15L271.26 521.37L272.69 523.67L274.13 526.07L275.57 528.55L277 531.07L278.44 533.6L279.88 536.16L281.31 538.75L282.75 541.37L284.19 544.04L285.62 546.75L287.06 549.48L288.5 552.26L289.93 555.07L291.37 557.95L292.81 560.9L294.24 563.97L295.68 567.16L297.12 570.39L298.55 573.61L299.99 576.74L301.43 579.77L302.86 582.76L304.3 585.71L305.74 588.64L307.17 591.57L308.61 594.5L310.05 597.42L311.48 600.33L312.92 603.21L314.36 606.06L315.79 608.87L317.23 611.67L318.67 614.43L320.1 617.17L321.54 619.88L322.98 622.57L324.41 625.27L325.85 627.92L327.29 630.52L328.72 633.02L330.16 635.43L331.6 637.78L333.03 640.06L334.47 642.29L335.9 644.48L337.34 646.64L338.78 648.79L340.21 650.87L341.65 652.85L343.09 654.69L344.52 656.37L345.96 657.95L347.4 659.45L348.83 660.9L350.27 662.34L351.71 663.76L353.14 665.17L354.58 666.53L356.02 667.84L357.45 669.08L358.89 670.24L360.33 671.35L361.76 672.42L363.2 673.46L364.64 674.47L366.07 675.47L367.51 676.44L368.95 677.39L370.38 678.31L371.82 679.19L373.26 680.05L374.69 680.9L376.13 681.74L377.57 682.56L379 683.36L380.44 684.14L381.88 684.9L383.31 685.61L384.75 686.3L386.19 686.94L387.62 687.54L389.06 688.12L390.5 688.67L391.93 689.2L393.37 689.71L394.81 690.2L396.24 690.68L397.68 691.16L399.12 691.63L400.55 692.09L401.99 692.56L403.43 693.03L404.86 693.49L406.3 693.94L407.74 694.39L409.17 694.82L410.61 695.24L412.04 695.64L413.48 696.02L414.92 696.37L416.35 696.71L417.79 697.04L419.23 697.36L420.66 697.66L422.1 697.96L423.54 698.24L424.97 698.51L426.41 698.78L427.85 699.03L429.28 699.27L430.72 699.5L432.16 699.73L433.59 699.94L435.03 700.14L436.47 700.34L437.9 700.54L439.34 700.73L440.78 700.91L442.21 701.1L443.65 701.29L445.09 701.49L446.52 701.68L447.96 701.87L449.4 702.05L450.83 702.24L452.27 702.42L453.71 702.6L455.14 702.78L456.58 702.95L458.02 703.11L459.45 703.28L460.89 703.43L462.33 703.59L463.76 703.74L465.2 703.89L466.64 704.03L468.07 704.17L469.51 704.32L470.95 704.46L472.38 704.6L473.82 704.74L475.26 704.89L476.69 705.04L478.13 705.18L479.56 705.33L481 705.47L482.44 705.6L483.87 705.72L485.31 705.82L486.75 705.91L488.18 705.99L489.62 706.06L491.06 706.12L492.49 706.18L493.93 706.24L495.37 706.29L496.8 706.34L498.24 706.39L499.68 706.43L501.11 706.48L502.55 706.53L503.99 706.58L505.42 706.62L506.86 706.66L508.3 706.7L509.73 706.74L511.17 706.78L512.61 706.82L514.04 706.87L515.48 706.92L516.92 706.98L518.35 707.04L519.79 707.1L521.23 707.17L522.66 707.24L524.1 707.31L525.54 707.39L526.97 707.47L528.41 707.55L529.85 707.63L531.28 707.71L532.72 707.8L534.16 707.88L535.59 707.97L537.03 708.05L538.47 708.14L539.9 708.22L541.34 708.31L542.78 708.39L544.21 708.47L545.65 708.55L547.09 708.63L548.52 708.7L549.96 708.77L551.39 708.84L552.83 708.91L554.27 708.98L555.7 709.05L557.14 709.12L558.58 709.19L560.01 709.26L561.45 709.33L562.89 709.4L564.32 709.46L565.76 709.53L567.2 709.6L568.63 709.66L570.07 709.73L571.51 709.79L572.94 709.85L574.38 709.91L575.82 709.97L577.25 710.03L578.69 710.08L580.13 710.14L581.56 710.19L583 710.23L584.44 710.28L585.87 710.32L587.31 710.36L588.75 710.4L590.18 710.43L591.62 710.47L593.06 710.5L594.49 710.53L595.93 710.56L597.37 710.59L598.8 710.62L600.24 710.65L601.68 710.68L603.11 710.7L604.55 710.73L605.99 710.75L607.42 710.78L608.86 710.8L610.3 710.83L611.73 710.85L613.17 710.87L614.61 710.9L616.04 710.92L617.48 710.94L618.92 710.96L620.35 710.99L621.79 711.01L623.23 711.03L624.66 711.06L626.1 711.08L627.53 711.1L628.97 711.12L630.41 711.15L631.84 711.17L633.28 711.19L634.72 711.21L636.15 711.23L637.59 711.25L639.03 711.28L640.46 711.3L641.9 711.32L643.34 711.34L644.77 711.36L646.21 711.38L647.65 711.39L649.08 711.41L650.52 711.43L651.96 711.45L653.39 711.47L654.83 711.49L656.27 711.5L657.7 711.52L659.14 711.54" fill="none" stroke="#0000ff" stroke-width="1.7" stroke-linejoin="round"/>
<g fill="#0000ff" stroke="none">
<path d="M98.87 490.37L101.62 495.07L96.12 495.07Z"/>
<path d="M106.05 490.37L108.8 495.07L103.3 495.07Z"/>
<path d="M113.23 490.37L115.98 495.07L110.48 495.07Z"/>
<path d="M120.41 490.37L123.16 495.07L117.66 495.07Z"/>
<path d="M127.6 490.37L130.35 495.07L124.85 495.07Z"/>
<path d="M134.78 490.37L137.53 495.07L132.03 495.07Z"/>
<path d="M141.96 490.37L144.71 495.07L139.21 495.07Z"/>
<path d="M149.15 490.37L151.9 495.07L146.4 495.07Z"/>
<path d="M156.33 490.37L159.08 495.07L153.58 495.07Z"/>
<path d="M163.51 490.37L166.26 495.07L160.76 495.07Z"/>
<path d="M170.7 490.37L173.45 495.07L167.95 495.07Z"/>
<path d="M177.88 490.37L180.63 495.07L175.13 495.07Z"/>
<path d="M185.06 490.37L187.81 495.07L182.31 495.07Z"/>
<path d="M192.25 490.37L195 495.07L189.5 495.07Z"/>
<path d="M199.43 490.37L202.18 495.07L196.68 495.07Z"/>
<path d="M206.61 490.37L209.36 495.07L203.86 495.07Z"/>
<path d="M213.79 490.37L216.54 495.07L211.04 495.07Z"/>
<path d="M220.98 490.37L223.73 495.07L218.23 495.07Z"/>
<path d="M228.16 490.37L230.91 495.07L225.41 495.07Z"/>
<path d="M235.34 490.43L238.09 495.13L232.59 495.13Z"/>
<path d="M242.53 491.04L245.28 495.74L239.78 495.74Z"/>
<path d="M249.71 494.59L252.46 499.29L246.96 499.29Z"/>
<path d="M256.89 500.14L259.64 504.84L254.14 504.84Z"/>
<path d="M264.07 508.09L266.82 512.79L261.32 512.79Z"/>
<path d="M271.26 518.52L274.01 523.22L268.51 523.22Z"/>
<path d="M278.44 530.36L281.19 535.06L275.69 535.06Z"/>
<path d="M285.62 544.19L288.37 548.89L282.87 548.89Z"/>
<path d="M292.81 558.75L295.56 563.45L290.06 563.45Z"/>
<path d="M299.99 573.56L302.74 578.26L297.24 578.26Z"/>
<path d="M307.17 589.15L309.92 593.85L304.42 593.85Z"/>
<path d="M314.36 603.98L317.11 608.68L311.61 608.68Z"/>
<path d="M321.54 616.54L324.29 621.24L318.79 621.24Z"/>
<path d="M328.72 630.27L331.47 634.97L325.97 634.97Z"/>
<path d="M335.9 641.08L338.65 645.78L333.15 645.78Z"/>
<path d="M343.09 651.84L345.84 656.54L340.34 656.54Z"/>
<path d="M350.27 659.81L353.02 664.51L347.52 664.51Z"/>
<path d="M357.45 666.61L360.2 671.31L354.7 671.31Z"/>
<path d="M364.64 671.61L367.39 676.31L361.89 676.31Z"/>
<path d="M371.82 676.2L374.57 680.9L369.07 680.9Z"/>
<path d="M379 680.67L381.75 685.37L376.25 685.37Z"/>
<path d="M386.19 683.96L388.94 688.66L383.44 688.66Z"/>
<path d="M393.37 687.4L396.12 692.1L390.62 692.1Z"/>
<path d="M400.55 688.95L403.3 693.65L397.8 693.65Z"/>
<path d="M407.74 692.22L410.49 696.92L404.99 696.92Z"/>
<path d="M414.92 693.35L417.67 698.05L412.17 698.05Z"/>
<path d="M422.1 694.45L424.85 699.15L419.35 699.15Z"/>
<path d="M429.28 695.55L432.03 700.25L426.53 700.25Z"/>
<path d="M436.47 696.28L439.22 700.98L433.72 700.98Z"/>
<path d="M443.65 699L446.4 703.7L440.9 703.7Z"/>
<path d="M450.83 698.7L453.58 703.4L448.08 703.4Z"/>
<path d="M458.02 699.33L460.77 704.03L455.27 704.03Z"/>
<path d="M465.2 700.22L467.95 704.92L462.45 704.92Z"/>
<path d="M472.38 701.96L475.13 706.66L469.63 706.66Z"/>
<path d="M479.56 701.97L482.31 706.67L476.81 706.67Z"/>
<path d="M486.75 701.77L489.5 706.47L484 706.47Z"/>
<path d="M493.93 703.91L496.68 708.61L491.18 708.61Z"/>
<path d="M501.11 703.09L503.86 707.79L498.36 707.79Z"/>
<path d="M508.3 702.96L511.05 707.66L505.55 707.66Z"/>
<path d="M515.48 704.16L518.23 708.86L512.73 708.86Z"/>
<path d="M522.66 703.79L525.41 708.49L519.91 708.49Z"/>
<path d="M529.85 705.07L532.6 709.77L527.1 709.77Z"/>
<path d="M537.03 705.36L539.78 710.06L534.28 710.06Z"/>
<path d="M544.21 705.78L546.96 710.48L541.46 710.48Z"/>
<path d="M551.39 705.61L554.14 710.31L548.64 710.31Z"/>
<path d="M558.58 706.1L561.33 710.8L555.83 710.8Z"/>
<path d="M565.76 705.88L568.51 710.58L563.01 710.58Z"/>
<path d="M572.94 707.23L575.69 711.93L570.19 711.93Z"/>
<path d="M580.13 707.07L582.88 711.77L577.38 711.77Z"/>
<path d="M587.31 706.71L590.06 711.41L584.56 711.41Z"/>
<path d="M594.49 707.09L597.24 711.79L591.74 711.79Z"/>
<path d="M601.68 708.26L604.43 712.96L598.93 712.96Z"/>
<path d="M608.86 707.31L611.61 712.01L606.11 712.01Z"/>
<path d="M616.04 708.04L618.79 712.74L613.29 712.74Z"/>
<path d="M623.23 707.69L625.98 712.39L620.48 712.39Z"/>
<path d="M630.41 707.85L633.16 712.55L627.66 712.55Z"/>
<path d="M637.59 707.46L640.34 712.16L634.84 712.16Z"/>
<path d="M644.77 708.16L647.52 712.86L642.02 712.86Z"/>
<path d="M651.96 709.32L654.71 714.02L649.21 714.02Z"/>
<path d="M659.14 709.14L661.89 713.84L656.39 713.84Z"/>
</g>
<path d="M84.5 493.5L85.94 493.5L87.37 493.5L88.81 493.5L90.25 493.5L91.68 493.5L93.12 493.5L94.56 493.5L95.99 493.5L97.43 493.5L98.87 493.5L100.3 493.5L101.74 493.5L103.18 493.5L104.61 493.5L106.05 493.5L107.49 493.5L108.92 493.5L110.36 493.5L111.8 493.5L113.23 493.5L114.67 493.5L116.11 493.5L117.54 493.5L118.98 493.5L120.41 493.5L121.85 493.5L123.29 493.5L124.72 493.5L126.16 493.5L127.6 493.5L129.03 493.5L130.47 493.5L131.91 493.5L133.34 493.5L134.78 493.5L136.22 493.5L137.65 493.5L139.09 493.5L140.53 493.5L141.96 493.5L143.4 493.5L144.84 493.5L146.27 493.5L147.71 493.5L149.15 493.5L150.58 493.5L152.02 493.5L153.46 493.5L154.89 493.5L156.33 493.5L157.77 493.5L159.2 493.5L160.64 493.5L162.08 493.5L163.51 493.5L164.95 493.5L166.39 493.5L167.82 493.5L169.26 493.5L170.7 493.5L172.13 493.5L173.57 493.5L175.01 493.5L176.44 493.5L177.88 493.5L179.32 493.5L180.75 493.5L182.19 493.5L183.63 493.5L185.06 493.5L186.5 493.5L187.94 493.5L189.37 493.5L190.81 493.5L192.25 493.5L193.68 493.5L195.12 493.5L196.55 493.5L197.99 493.5L199.43 493.5L200.86 493.5L202.3 493.5L203.74 493.5L205.17 493.5L206.61 493.5L208.05 493.5L209.48 493.5L210.92 493.5L212.36 493.5L213.79 493.5L215.23 493.5L216.67 493.5L218.1 493.5L219.54 493.5L220.98 493.5L222.41 493.5L223.85 493.5L225.29 493.5L226.72 493.5L228.16 493.5L229.6 493.5L231.03 493.5L232.47 493.5L233.91 493.5L235.34 493.5L236.78 493.5L238.22 493.5L239.65 493.5L241.09 493.5L242.53 493.5L243.96 493.5L245.4 493.5L246.84 493.5L248.27 493.5L249.71 493.5L251.15 493.5L252.58 493.5L254.02 493.5L255.46 493.5L256.89 493.5L258.33 493.5L259.77 493.5L261.2 493.5L262.64 493.5L264.07 493.5L265.51 493.5L266.95 493.5L268.38 493.5L269.82 493.5L271.26 493.5L272.69 493.5L274.13 493.5L275.57 493.5L277 493.5L278.44 493.5L279.88 493.5L281.31 493.5L282.75 493.5L284.19 493.5L285.62 493.5L287.06 493.5L288.5 493.5L289.93 493.5L291.37 493.5L292.81 493.5L294.24 493.5L295.68 493.5L297.12 493.5L298.55 493.5L299.99 493.5L301.43 493.5L302.86 493.5L304.3 493.5L305.74 493.5L307.17 493.5L308.61 493.5L310.05 493.5L311.48 493.5L312.92 493.5L314.36 493.5L315.79 493.5L317.23 493.5L318.67 493.5L320.1 493.5L321.54 493.5L322.98 493.5L324.41 493.5L325.85 493.5L327.29 493.5L328.72 493.5L330.16 493.5L331.6 493.5L333.03 493.5L334.47 493.5L335.9 493.5L337.34 493.5L338.78 493.5L340.21 493.5L341.65 493.5L343.09 493.5L344.52 493.5L345.96 493.5L347.4 493.5L348.83 493.5L350.27 493.5L351.71 493.5L353.14 493.5L354.58 493.5L356.02 493.5L357.45 493.5L358.89 493.5L360.33 493.5L361.76 493.5L363.2 493.5L364.64 493.5L366.07 493.51L367.51 493.53L368.95 493.56L370.38 493.61L371.82 493.67L373.26 494.19L374.69 495.47L376.13 497.33L377.57 499.55L379 501.93L380.44 504.86L381.88 508.74L383.31 513.32L384.75 518.37L386.19 523.66L387.62 529.47L389.06 536.08L390.5 543.23L391.93 550.69L393.37 558.2L394.81 565.97L396.24 574.16L397.68 582.53L399.12 590.83L400.55 598.81L401.99 606.49L403.43 614.04L404.86 621.44L406.3 628.67L407.74 635.71L409.17 642.57L410.61 649.27L412.04 655.81L413.48 662.21L414.92 668.47L416.35 674.65L417.79 680.69L419.23 686.59L420.66 692.32L422.1 697.86L423.54 703.19L424.97 708.31L426.41 713.21L427.85 717.88L429.28 722.32L430.72 726.53L432.16 730.54L433.59 734.36L435.03 738.02L436.47 741.57L437.9 745L439.34 748.34L440.78 751.57L442.21 754.7L443.65 757.71L445.09 760.6L446.52 763.39L447.96 766.08L449.4 768.68L450.83 771.19L452.27 773.62L453.71 775.94L455.14 778.13L456.58 780.15L458.02 781.97L459.45 783.58L460.89 784.98L462.33 786.18L463.76 787.19L465.2 788.04L466.64 788.72L468.07 789.24L469.51 789.59L470.95 789.75L472.38 789.72L473.82 789.5L475.26 789.08L476.69 788.47L478.13 787.67L479.56 786.69L481 785.53L482.44 784.2L483.87 782.71L485.31 781.07L486.75 779.28L488.18 777.35L489.62 775.36L491.06 773.37L492.49 771.44L493.93 769.64L495.37 768.03L496.8 766.61L498.24 765.38L499.68 764.32L501.11 763.44L502.55 762.71L503.99 762.13L505.42 761.67L506.86 761.33L508.3 761.08L509.73 760.91L511.17 760.83L512.61 760.82L514.04 760.91L515.48 761.08L516.92 761.34L518.35 761.7L519.79 762.16L521.23 762.74L522.66 763.44L524.1 764.26L525.54 765.18L526.97 766.15L528.41 767.16L529.85 768.15L531.28 769.12L532.72 770.03L534.16 770.91L535.59 771.74L537.03 772.54L538.47 773.28L539.9 773.98L541.34 774.61L542.78 775.18L544.21 775.67L545.65 776.07L547.09 776.4L548.52 776.64L549.96 776.81L551.39 776.92L552.83 776.96L554.27 776.94L555.7 776.87L557.14 776.75L558.58 776.58L560.01 776.38L561.45 776.14L562.89 775.9L564.32 775.64L565.76 775.4L567.2 775.18L568.63 774.97L570.07 774.8L571.51 774.66L572.94 774.56L574.38 774.49L575.82 774.46L577.25 774.47L578.69 774.5L580.13 774.56L581.56 774.64L583 774.73L584.44 774.84L585.87 774.97L587.31 775.1L588.75 775.24L590.18 775.38L591.62 775.54L593.06 775.72L594.49 775.91L595.93 776.11L597.37 776.33L598.8 776.54L600.24 776.74L601.68 776.92L603.11 777.06L604.55 777.17L605.99 777.26L607.42 777.32L608.86 777.37L610.3 777.39L611.73 777.41L613.17 777.42L614.61 777.42L616.04 777.42L617.48 777.43L618.92 777.43L620.35 777.44L621.79 777.45L623.23 777.46L624.66 777.48L626.1 777.49L627.53 777.5L628.97 777.51L630.41 777.52L631.84 777.53L633.28 777.54L634.72 777.55L636.15 777.56L637.59 777.56L639.03 777.57L640.46 777.57L641.9 777.58L643.34 777.59L644.77 777.59L646.21 777.6L647.65 777.6L649.08 777.61L650.52 777.62L651.96 777.63L653.39 777.64L654.83 777.65L656.27 777.66L657.7 777.68L659.14 777.69" fill="none" stroke="#008000" stroke-width="1.75" stroke-linejoin="round"/>
<g fill="#008000" stroke="none">
<path d="M98.87 496.63L101.62 491.93L96.12 491.93Z"/>
<path d="M106.05 496.63L108.8 491.93L103.3 491.93Z"/>
<path d="M113.23 496.63L115.98 491.93L110.48 491.93Z"/>
<path d="M120.41 496.63L123.16 491.93L117.66 491.93Z"/>
<path d="M127.6 496.63L130.35 491.93L124.85 491.93Z"/>
<path d="M134.78 496.63L137.53 491.93L132.03 491.93Z"/>
<path d="M141.96 496.63L144.71 491.93L139.21 491.93Z"/>
<path d="M149.15 496.63L151.9 491.93L146.4 491.93Z"/>
<path d="M156.33 496.63L159.08 491.93L153.58 491.93Z"/>
<path d="M163.51 496.63L166.26 491.93L160.76 491.93Z"/>
<path d="M170.7 496.63L173.45 491.93L167.95 491.93Z"/>
<path d="M177.88 496.63L180.63 491.93L175.13 491.93Z"/>
<path d="M185.06 496.63L187.81 491.93L182.31 491.93Z"/>
<path d="M192.25 496.63L195 491.93L189.5 491.93Z"/>
<path d="M199.43 496.63L202.18 491.93L196.68 491.93Z"/>
<path d="M206.61 496.63L209.36 491.93L203.86 491.93Z"/>
<path d="M213.79 496.63L216.54 491.93L211.04 491.93Z"/>
<path d="M220.98 496.63L223.73 491.93L218.23 491.93Z"/>
<path d="M228.16 496.63L230.91 491.93L225.41 491.93Z"/>
<path d="M235.34 496.63L238.09 491.93L232.59 491.93Z"/>
<path d="M242.53 496.63L245.28 491.93L239.78 491.93Z"/>
<path d="M249.71 496.63L252.46 491.93L246.96 491.93Z"/>
<path d="M256.89 496.63L259.64 491.93L254.14 491.93Z"/>
<path d="M264.07 496.63L266.82 491.93L261.32 491.93Z"/>
<path d="M271.26 496.63L274.01 491.93L268.51 491.93Z"/>
<path d="M278.44 496.63L281.19 491.93L275.69 491.93Z"/>
<path d="M285.62 496.63L288.37 491.93L282.87 491.93Z"/>
<path d="M292.81 496.63L295.56 491.93L290.06 491.93Z"/>
<path d="M299.99 496.63L302.74 491.93L297.24 491.93Z"/>
<path d="M307.17 496.63L309.92 491.93L304.42 491.93Z"/>
<path d="M314.36 496.63L317.11 491.93L311.61 491.93Z"/>
<path d="M321.54 496.63L324.29 491.93L318.79 491.93Z"/>
<path d="M328.72 496.63L331.47 491.93L325.97 491.93Z"/>
<path d="M335.9 496.63L338.65 491.93L333.15 491.93Z"/>
<path d="M343.09 496.63L345.84 491.93L340.34 491.93Z"/>
<path d="M350.27 496.63L353.02 491.93L347.52 491.93Z"/>
<path d="M357.45 496.63L360.2 491.93L354.7 491.93Z"/>
<path d="M364.64 496.63L367.39 491.93L361.89 491.93Z"/>
<path d="M371.82 496.8L374.57 492.1L369.07 492.1Z"/>
<path d="M379 504.66L381.75 499.96L376.25 499.96Z"/>
<path d="M386.19 526.93L388.94 522.23L383.44 522.23Z"/>
<path d="M393.37 560.72L396.12 556.02L390.62 556.02Z"/>
<path d="M400.55 601.8L403.3 597.1L397.8 597.1Z"/>
<path d="M407.74 639.25L410.49 634.55L404.99 634.55Z"/>
<path d="M414.92 671.02L417.67 666.32L412.17 666.32Z"/>
<path d="M422.1 701.43L424.85 696.73L419.35 696.73Z"/>
<path d="M429.28 726.56L432.03 721.86L426.53 721.86Z"/>
<path d="M436.47 743.59L439.22 738.89L433.72 738.89Z"/>
<path d="M443.65 761.87L446.4 757.17L440.9 757.17Z"/>
<path d="M450.83 773.98L453.58 769.28L448.08 769.28Z"/>
<path d="M458.02 784.6L460.77 779.9L455.27 779.9Z"/>
<path d="M465.2 791.09L467.95 786.39L462.45 786.39Z"/>
<path d="M472.38 793.76L475.13 789.06L469.63 789.06Z"/>
<path d="M479.56 789.28L482.31 784.58L476.81 784.58Z"/>
<path d="M486.75 783.19L489.5 778.49L484 778.49Z"/>
<path d="M493.93 773.5L496.68 768.8L491.18 768.8Z"/>
<path d="M501.11 766.77L503.86 762.07L498.36 762.07Z"/>
<path d="M508.3 763.79L511.05 759.09L505.55 759.09Z"/>
<path d="M515.48 764.05L518.23 759.35L512.73 759.35Z"/>
<path d="M522.66 766.13L525.41 761.43L519.91 761.43Z"/>
<path d="M529.85 771.53L532.6 766.83L527.1 766.83Z"/>
<path d="M537.03 775.76L539.78 771.06L534.28 771.06Z"/>
<path d="M544.21 779.42L546.96 774.72L541.46 774.72Z"/>
<path d="M551.39 780.22L554.14 775.52L548.64 775.52Z"/>
<path d="M558.58 779.39L561.33 774.69L555.83 774.69Z"/>
<path d="M565.76 778.7L568.51 774L563.01 774Z"/>
<path d="M572.94 777.43L575.69 772.73L570.19 772.73Z"/>
<path d="M580.13 778L582.88 773.3L577.38 773.3Z"/>
<path d="M587.31 778.55L590.06 773.85L584.56 773.85Z"/>
<path d="M594.49 779.02L597.24 774.32L591.74 774.32Z"/>
<path d="M601.68 780.16L604.43 775.46L598.93 775.46Z"/>
<path d="M608.86 780.18L611.61 775.48L606.11 775.48Z"/>
<path d="M616.04 780.46L618.79 775.76L613.29 775.76Z"/>
<path d="M623.23 779.66L625.98 774.96L620.48 774.96Z"/>
<path d="M630.41 780.78L633.16 776.08L627.66 776.08Z"/>
<path d="M637.59 780.82L640.34 776.12L634.84 776.12Z"/>
<path d="M644.77 781.29L647.52 776.59L642.02 776.59Z"/>
<path d="M651.96 780.75L654.71 776.05L649.21 776.05Z"/>
<path d="M659.14 780.46L661.89 775.76L656.39 775.76Z"/>
</g>
<path d="M84.5 493.5H196.55" stroke="#000" stroke-width="1.9" fill="none" stroke-dasharray="4.6 2.58" stroke-dashoffset="-0.28"/>
<path d="M84.5 493.5H659.14" stroke="#000" stroke-width="1.1" fill="none" stroke-dasharray="4.4 2.78" stroke-dashoffset="-0.28"/>
</g>
<rect x="84.5" y="459.81" width="574.64" height="371.19" fill="none" stroke="#000" stroke-width="1.55"/>
<path d="M84.5 831v-7.4M84.5 459.81v7.4M98.87 831v-3.6M98.87 459.81v3.6M113.23 831v-3.6M113.23 459.81v3.6M127.6 831v-3.6M127.6 459.81v3.6M141.96 831v-3.6M141.96 459.81v3.6M156.33 831v-7.4M156.33 459.81v7.4M170.7 831v-3.6M170.7 459.81v3.6M185.06 831v-3.6M185.06 459.81v3.6M199.43 831v-3.6M199.43 459.81v3.6M213.79 831v-3.6M213.79 459.81v3.6M228.16 831v-7.4M228.16 459.81v7.4M242.53 831v-3.6M242.53 459.81v3.6M256.89 831v-3.6M256.89 459.81v3.6M271.26 831v-3.6M271.26 459.81v3.6M285.62 831v-3.6M285.62 459.81v3.6M299.99 831v-7.4M299.99 459.81v7.4M314.36 831v-3.6M314.36 459.81v3.6M328.72 831v-3.6M328.72 459.81v3.6M343.09 831v-3.6M343.09 459.81v3.6M357.45 831v-3.6M357.45 459.81v3.6M371.82 831v-7.4M371.82 459.81v7.4M386.19 831v-3.6M386.19 459.81v3.6M400.55 831v-3.6M400.55 459.81v3.6M414.92 831v-3.6M414.92 459.81v3.6M429.28 831v-3.6M429.28 459.81v3.6M443.65 831v-7.4M443.65 459.81v7.4M458.02 831v-3.6M458.02 459.81v3.6M472.38 831v-3.6M472.38 459.81v3.6M486.75 831v-3.6M486.75 459.81v3.6M501.11 831v-3.6M501.11 459.81v3.6M515.48 831v-7.4M515.48 459.81v7.4M529.85 831v-3.6M529.85 459.81v3.6M544.21 831v-3.6M544.21 459.81v3.6M558.58 831v-3.6M558.58 459.81v3.6M572.94 831v-3.6M572.94 459.81v3.6M587.31 831v-7.4M587.31 459.81v7.4M601.68 831v-3.6M601.68 459.81v3.6M616.04 831v-3.6M616.04 459.81v3.6M630.41 831v-3.6M630.41 459.81v3.6M644.77 831v-3.6M644.77 459.81v3.6M659.14 831v-7.4M659.14 459.81v7.4M84.5 831h7.4M659.14 831h-7.4M84.5 797.25h3.6M659.14 797.25h-3.6M84.5 763.51h7.4M659.14 763.51h-7.4M84.5 729.76h3.6M659.14 729.76h-3.6M84.5 696.02h7.4M659.14 696.02h-7.4M84.5 662.27h3.6M659.14 662.27h-3.6M84.5 628.53h7.4M659.14 628.53h-7.4M84.5 594.79h3.6M659.14 594.79h-3.6M84.5 561.04h7.4M659.14 561.04h-7.4M84.5 527.3h3.6M659.14 527.3h-3.6M84.5 493.55h7.4M659.14 493.55h-7.4M84.5 459.81h3.6M659.14 459.81h-3.6" stroke="#000" stroke-width="1.55" fill="none"/>
<text transform="translate(84.8 854.9) scale(1.0 1.075)" font-size="20" text-anchor="middle">0.0</text>
<text transform="translate(156.63 854.9) scale(1.0 1.075)" font-size="20" text-anchor="middle">0.5</text>
<text transform="translate(228.46 854.9) scale(1.0 1.075)" font-size="20" text-anchor="middle">1.0</text>
<text transform="translate(300.29 854.9) scale(1.0 1.075)" font-size="20" text-anchor="middle">1.5</text>
<text transform="translate(372.12 854.9) scale(1.0 1.075)" font-size="20" text-anchor="middle">2.0</text>
<text transform="translate(443.95 854.9) scale(1.0 1.075)" font-size="20" text-anchor="middle">2.5</text>
<text transform="translate(515.78 854.9) scale(1.0 1.075)" font-size="20" text-anchor="middle">3.0</text>
<text transform="translate(587.61 854.9) scale(1.0 1.075)" font-size="20" text-anchor="middle">3.5</text>
<text transform="translate(659.44 854.9) scale(1.0 1.075)" font-size="20" text-anchor="middle">4.0</text>
<text transform="translate(77.1 837.3) scale(1.008 1.075)" font-size="20" text-anchor="end">0.0</text>
<text transform="translate(77.1 769.81) scale(1.008 1.075)" font-size="20" text-anchor="end">0.2</text>
<text transform="translate(77.1 702.32) scale(1.008 1.075)" font-size="20" text-anchor="end">0.4</text>
<text transform="translate(77.1 634.83) scale(1.008 1.075)" font-size="20" text-anchor="end">0.6</text>
<text transform="translate(77.1 567.34) scale(1.008 1.075)" font-size="20" text-anchor="end">0.8</text>
<text transform="translate(77.1 499.85) scale(1.008 1.075)" font-size="20" text-anchor="end">1.0</text>
<text transform="translate(372.9 890.4) scale(1.0 1.06)" font-size="30.6" text-anchor="middle">R (fm)</text>
<text transform="translate(31.6 668) rotate(-90)" font-size="31" style="stroke-width:0.5px"><tspan x="-0.6" font-size="30" stroke-width="0.6" font-family="'Liberation Serif', serif">ω</tspan><tspan x="19.2" font-size="29">[</tspan><tspan x="24.9">N</tspan><tspan x="48" dy="9.6" font-size="19" stroke-width="0">±</tspan><tspan x="59.2" dy="-9.6" font-size="29">]</tspan></text>
<text transform="translate(192.2 658.5) scale(1.012 1.075)" font-size="20" text-anchor="middle">Open symbols: GCE</text>
<text transform="translate(192.8 682.8) scale(1.012 1.075)" font-size="20" text-anchor="middle">Full symbols: CE</text>
<text transform="translate(110.1 729.4) scale(1.012 1.075)" font-size="20" text-anchor="start">m = 1 GeV</text>
<text transform="translate(110.1 754.1) scale(1.012 1.075)" font-size="20" text-anchor="start">g<tspan font-size="12.5" dy="9">+</tspan><tspan dy="-9"> = g</tspan><tspan font-size="12.5" dy="9">−</tspan><tspan dy="-9"> = 75</tspan></text>
<text transform="translate(110.1 784.8) scale(1.012 1.075)" font-size="20" text-anchor="start" xml:space="preserve">T  <tspan dx="1.4">= 150 MeV</tspan></text>
<text transform="translate(110.1 811.8) scale(1.012 1.075)" font-size="20" text-anchor="start" xml:space="preserve">N<tspan font-size="12.5" dy="8">+</tspan><tspan dy="-8"> – N</tspan><tspan font-size="12.5" dy="8">−</tspan><tspan dy="-8" dx="3.2">=</tspan><tspan dx="4.2">0</tspan></text>
<text transform="translate(316.3 737.9) scale(1.012 1.075)" font-size="20" text-anchor="start">r = 0.00 fm</text>
<text transform="translate(316.3 762.4) scale(1.012 1.075)" font-size="20" text-anchor="start">r = 0.30 fm</text>
<text transform="translate(316.3 786.9) scale(1.012 1.075)" font-size="20" text-anchor="start">r = 0.50 fm</text>
<text transform="translate(316.3 811.4) scale(1.012 1.075)" font-size="20" text-anchor="start">r = 1.00 fm</text>
<text transform="translate(627.7 812.2) scale(1.012 1.075)" font-size="20" text-anchor="middle">(b)</text>
<g fill="#000"><rect x="286.05" y="728.55" width="4.3" height="4.3"/></g>
<g fill="#ff0000"><circle cx="288.2" cy="755.4" r="2.45"/></g>
<g fill="#0000ff"><path d="M288.2 777.27L290.95 781.97L285.45 781.97Z"/></g>
<g fill="#008000"><path d="M288.2 807.63L290.95 802.93L285.45 802.93Z"/></g>
</svg>
</body></html>
